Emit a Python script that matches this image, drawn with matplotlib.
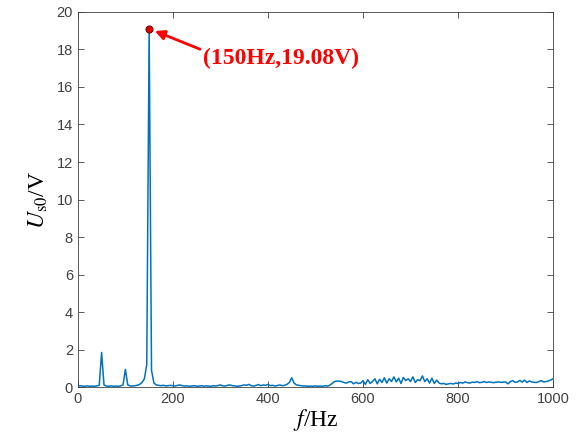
import numpy as np
import matplotlib.pyplot as plt

plt.rcParams['font.family'] = ['Liberation Sans', 'DejaVu Sans']
plt.rcParams['mathtext.fontset'] = 'stix'

# spectrum of the zero-sequence voltage, 5 Hz bins
freq = np.arange(0, 1001, 5)
amp = [
    # 0 - 95 Hz
    0.05, 0.08, 0.06, 0.05, 0.07, 0.05, 0.06, 0.05, 0.07, 0.10,
    1.85, 0.12, 0.06, 0.05, 0.07, 0.05, 0.06, 0.05, 0.07, 0.12,
    # 100 - 195 Hz
    0.95, 0.12, 0.07, 0.06, 0.08, 0.10, 0.15, 0.25, 0.45, 1.20,
    19.08, 0.90, 0.22, 0.12, 0.10, 0.08, 0.10, 0.07, 0.08, 0.10,
    # 200 - 295 Hz
    0.08, 0.06, 0.10, 0.12, 0.08, 0.06, 0.07, 0.05, 0.06, 0.08,
    0.05, 0.06, 0.08, 0.05, 0.07, 0.06, 0.05, 0.08, 0.06, 0.09,
    # 300 - 395 Hz
    0.12, 0.07, 0.06, 0.10, 0.12, 0.08, 0.07, 0.05, 0.06, 0.09,
    0.12, 0.10, 0.15, 0.08, 0.06, 0.10, 0.14, 0.08, 0.12, 0.10,
    # 400 - 495 Hz
    0.15, 0.08, 0.10, 0.06, 0.09, 0.12, 0.08, 0.10, 0.15, 0.25,
    0.50, 0.22, 0.12, 0.10, 0.08, 0.06, 0.07, 0.05, 0.06, 0.05,
    # 500 - 595 Hz
    0.07, 0.05, 0.06, 0.05, 0.08, 0.06, 0.10, 0.20, 0.30, 0.33,
    0.32, 0.30, 0.25, 0.22, 0.28, 0.30, 0.18, 0.26, 0.20, 0.22,
    # 600 - 695 Hz
    0.35, 0.15, 0.40, 0.20, 0.30, 0.45, 0.18, 0.42, 0.25, 0.50,
    0.22, 0.45, 0.30, 0.55, 0.28, 0.48, 0.20, 0.52, 0.35, 0.45,
    # 700 - 795 Hz
    0.30, 0.55, 0.25, 0.40, 0.35, 0.60, 0.30, 0.45, 0.22, 0.48,
    0.20, 0.38, 0.22, 0.18, 0.20, 0.15, 0.18, 0.20, 0.17, 0.22,
    # 800 - 895 Hz
    0.20, 0.25, 0.22, 0.28, 0.24, 0.22, 0.27, 0.25, 0.30, 0.24,
    0.26, 0.30, 0.25, 0.28, 0.26, 0.24, 0.27, 0.28, 0.26, 0.27,
    # 900 - 995 Hz
    0.28, 0.18, 0.30, 0.35, 0.26, 0.28, 0.36, 0.27, 0.38, 0.25,
    0.33, 0.28, 0.26, 0.25, 0.30, 0.35, 0.28, 0.30, 0.33, 0.38,
    # 1000 Hz
    0.45,
]

peak_f = 150
peak_v = 19.08

fig = plt.figure(figsize=(5.81, 4.40), dpi=100)
ax = fig.add_axes([0.134, 0.12, 0.818, 0.853])

ax.plot(freq, amp, color='#0072BD', lw=1.1)
ax.plot(peak_f, peak_v, 'o', ms=5, mfc='#E00000', mec='#800000', mew=0.8)
ax.annotate(f'({peak_f}Hz,{peak_v:.2f}V)', xy=(peak_f + 12, peak_v - 0.1),
            xytext=(263, 17.5), va='center', ha='left',
            fontsize=17, fontweight='bold', family='Liberation Serif', color='#FF0000',
            arrowprops=dict(arrowstyle='-|>', color='#FF0000', lw=2,
                            mutation_scale=14, shrinkA=0, shrinkB=0,
                            relpos=(0.0, 0.9)))

ax.set_xlim(0, 1000)
ax.set_ylim(0, 20)
ax.set_xticks(np.arange(0, 1001, 200))
ax.set_yticks(np.arange(0, 21, 2))
ax.tick_params(direction='in', top=True, right=True, labelsize=10.5,
               colors='#404040', length=4.5, width=0.6)
for sp in ax.spines.values():
    sp.set_color('#404040')
    sp.set_linewidth(0.6)

ax.set_xlabel('$f$/Hz', fontsize=17, family='Liberation Serif', labelpad=1)
ax.set_ylabel(r'$U_{\mathrm{s0}}$/V', fontsize=17, family='Liberation Serif', labelpad=5)

fig.savefig('out.png', dpi=100)
